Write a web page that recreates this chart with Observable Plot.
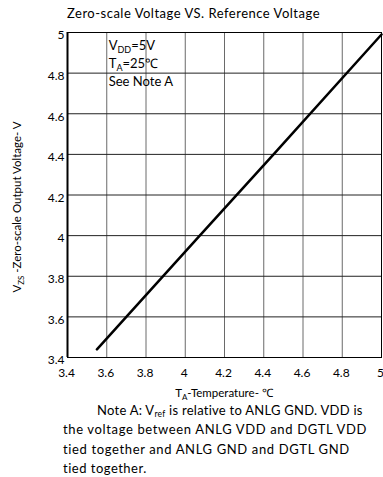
<!DOCTYPE html>
<html><head><meta charset="utf-8">
<script src="https://cdn.jsdelivr.net/npm/d3@7"></script>
<script src="https://cdn.jsdelivr.net/npm/@observablehq/plot@0.6"></script>
<style>
body{margin:0;background:#fff;font-family:Lato,"Open Sans",sans-serif;color:#000}
#title{height:24px;line-height:26px;font-size:13px;white-space:nowrap;padding-left:67px}
#title span{display:inline-block}
#chart svg{display:block}
#note{font-size:13px;line-height:19.3px;margin-top:-1px;white-space:nowrap}
#note div{height:19.3px}
#note span.ln{display:inline-block}
#note .sub{font-size:8.5px;position:relative;top:2px;line-height:0}
</style></head><body>
<div id="title"><span>Zero-scale Voltage VS. Reference Voltage</span></div>
<div id="chart"></div>
<div id="note">
<div style="padding-left:97px"><span class="ln">Note A: V<span class="sub">ref</span> is relative to ANLG GND. VDD is</span></div>
<div style="padding-left:63px"><span class="ln">the voltage between ANLG VDD and DGTL VDD</span></div>
<div style="padding-left:63px"><span class="ln">tied together and ANLG GND and DGTL GND</span></div>
<div style="padding-left:63px"><span class="ln">tied together.</span></div>
</div>
<script>
// data
const tempX = [3.55, 4.06, 4.45, 5.00];
const voltY = [3.44, 3.985, 4.40, 4.99];
const xTicks = [3.4, 3.6, 3.8, 4.0, 4.2, 4.4, 4.6, 4.8, 5.0];
const xTickLabels = ["3.4", "3.6", "3.8", "4", "4.2", "4.4", "4.6", "4.8", "5"];
const yTicks = [3.4, 3.6, 3.8, 4.0, 4.2, 4.4, 4.6, 4.8, 5.0];
const yTickLabels = ["3.4", "3.6", "3.8", "4", "4.2", "4.4", "4.6", "4.8", "5"];
const annotLines = ["V_{DD}=5V", "T_{A}=25℃", "See Note A"];
const annotY = [4.936, 4.847, 4.759];
const annotX = 3.61;
const xLabel = "T_{A}-Temperature- ℃";
const yLabel = "V_{ZS} -Zero-scale Output Voltage- V";

const points = tempX.map((x, i) => ({x, y: voltY[i]}));
const annots = annotLines.map((t, i) => ({t, y: annotY[i]}));

const plot = Plot.plot({
  width: 383, height: 378,
  marginTop: 8, marginLeft: 67, marginRight: 2, marginBottom: 45,
  style: {fontSize: "12px", fontFamily: "Lato, 'Open Sans', sans-serif", color: "#000", background: "#fff"},
  x: {domain: [3.4, 5], label: null},
  y: {domain: [3.4, 5], label: null},
  marks: [
    Plot.gridX(xTicks, {stroke: "#6a6a6a", strokeOpacity: 1}),
    Plot.gridY(yTicks, {stroke: "#222", strokeOpacity: 1}),
    Plot.frame({stroke: "#000"}),
    Plot.ruleX([3.4], {stroke: "#000", strokeWidth: 2}),
    Plot.axisX(xTicks, {tickSize: 0, tickPadding: 11, label: null, tickFormat: (d, i) => xTickLabels[i], dx: -1}),
    Plot.axisY(yTicks, {tickSize: 0, tickPadding: 3, label: null, tickFormat: (d, i) => yTickLabels[i], dy: 3}),
    Plot.line(points, {x: "x", y: "y", stroke: "#000", strokeWidth: 2.5}),
    Plot.text(annots, {x: () => annotX, y: "y", text: "t", textAnchor: "start", fontSize: 13})
  ]
});
document.getElementById("chart").appendChild(plot);

function rich(textSel, str, subSize) {
  textSel.text(null);
  const parts = str.split(/(_\{[^}]*\})/);
  let lowered = false;
  parts.forEach(p => {
    if (!p) return;
    const m = p.match(/^_\{([^}]*)\}$/);
    if (m) {
      textSel.append("tspan").attr("font-size", subSize).attr("dy", lowered ? 0 : 3).text(m[1]);
      lowered = true;
    } else {
      textSel.append("tspan").attr("dy", lowered ? -3 : 0).text(p);
      lowered = false;
    }
  });
}

const svg = d3.select(plot);
svg.selectAll('g[aria-label="text"] text').each(function(d, i) {
  rich(d3.select(this), annotLines[i], 9);
});
const xl = svg.append("text").attr("x", 224).attr("y", 373).attr("text-anchor", "middle")
  .attr("font-size", 11.5).attr("fill", "#000");
rich(xl, xLabel, 8);
const yl = svg.append("text").attr("transform", "translate(21,183) rotate(-90)").attr("text-anchor", "middle")
  .attr("font-size", 11.5).attr("fill", "#000");
rich(yl, yLabel, 8);

// stretch text widths to match the reference layout
function spread(el, target) {
  const w = el.getBoundingClientRect().width;
  const n = el.textContent.length;
  el.style.letterSpacing = ((target - w) / n) + "px";
}
spread(document.querySelector("#title span"), 253);
const lns = document.querySelectorAll("#note span.ln");
[266, 304, 287, 84].forEach((t, i) => spread(lns[i], t));
</script>
</body></html>
